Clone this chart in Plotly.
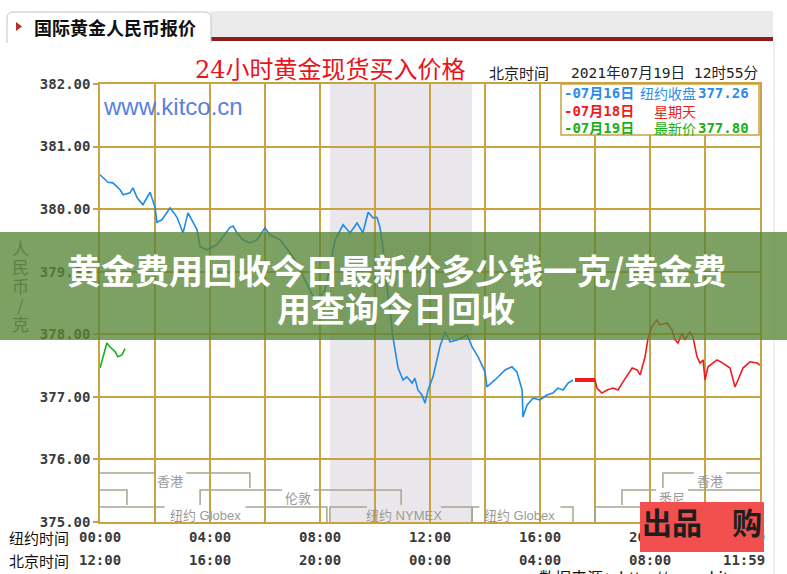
import plotly.graph_objects as go

# ---------------- data (NY time in hours, price in CNY/g) ----------------
blue_hours = [0.00,0.11,0.29,0.47,0.73,0.84,1.09,1.20,1.35,1.56,1.82,2.00,2.07,2.25,2.55,2.80,3.02,3.20,3.53,3.64,
              3.89,4.25,4.47,4.73,4.84,4.98,5.20,5.45,5.71,6.00,6.18,6.55,6.91,7.16,7.45,7.71,7.93,8.18,8.36,8.55,
              8.84,9.09,9.35,9.56,9.75,9.93,10.07,10.18,10.29,10.40,10.55,10.65,10.84,11.02,11.16,11.35,11.45,11.56,11.71,11.82,
              11.93,12.11,12.36,12.55,12.73,12.98,13.35,13.53,13.75,14.00,14.07,14.36,14.73,14.98,15.16,15.35,15.38,15.53,15.75,16.00,
              16.25,16.47,16.65,16.84,17.02,17.20]
blue_price = [380.55,380.50,380.43,380.42,380.31,380.23,380.26,380.34,380.18,380.07,380.27,380.03,379.79,379.83,380.02,379.87,379.62,379.94,379.67,379.40,
              379.35,379.43,379.55,379.71,379.73,379.62,379.51,379.46,379.51,379.70,379.59,379.51,379.30,379.14,378.87,378.63,378.55,378.71,379.08,379.51,
              379.75,379.62,379.78,379.62,379.95,379.86,379.87,379.71,379.39,378.87,378.39,377.96,377.46,377.27,377.32,377.22,377.30,377.11,377.03,376.90,
              377.11,377.32,377.80,378.04,377.88,377.91,377.99,377.80,377.64,377.40,377.16,377.27,377.43,377.48,377.40,377.11,376.68,376.87,376.98,376.95,
              377.03,377.06,377.14,377.11,377.22,377.27]

sunday_hours = [17.27, 18.00]
sunday_price = [377.27, 377.27]

red_hours = [18.00,18.07,18.25,18.44,18.65,18.84,19.02,19.35,19.53,19.64,19.82,19.93,20.07,20.25,20.36,20.62,20.80,20.91,21.02,21.16,
             21.27,21.45,21.56,21.71,21.82,21.93,22.00,22.11,22.44,22.65,22.91,23.09,23.20,23.38,23.64,23.89,24.00]
red_price = [377.27,377.14,377.06,377.11,377.14,377.11,377.24,377.46,377.43,377.35,377.64,377.94,378.12,378.23,378.15,378.18,378.07,377.91,377.86,378.02,
             377.91,378.04,377.96,377.64,377.54,377.59,377.27,377.48,377.59,377.54,377.46,377.16,377.27,377.46,377.56,377.54,377.51]

green_hours = [0.00,0.11,0.25,0.36,0.55,0.65,0.80,0.91]
green_price = [377.46,377.64,377.86,377.80,377.72,377.64,377.67,377.77]

price_ticks = [375, 376, 377, 378, 379, 380, 381, 382]
time_ticks = [0, 4, 8, 12, 16, 20]
ny_time_labels = ["00:00", "04:00", "08:00", "12:00", "16:00", "20:00"]
bj_time_labels = ["12:00", "16:00", "20:00", "00:00", "04:00", "08:00"]
last_ny_label = "23:59"
last_bj_label = "11:59"
nymex_window = [8.36, 13.53]

legend_dates = ["-07月16日", "-07月18日", "-07月19日"]
legend_names = ["纽约收盘", "星期天", "最新价"]
legend_values = ["377.26", "", "377.80"]

# trading sessions: label, row, start, end, label centre, left bracket, right bracket
sessions = [
    ("香港", 0, 0.00, 5.45, 2.55, False, True),
    ("香港", 0, 20.47, 24.00, 22.18, True, False),
    ("", 1, 0.00, 0.98, None, False, True),
    ("伦敦", 1, 3.64, 10.95, 7.20, True, True),
    ("悉尼", 1, 18.98, 24.00, 20.80, True, False),
    ("纽约 Globex", 2, 0.00, 8.25, 3.82, False, True),
    ("纽约 NYMEX", 2, 8.36, 13.53, 11.05, True, True),
    ("纽约 Globex", 2, 13.53, 17.20, 15.27, True, True),
    ("纽约 Globex", 2, 18.00, 24.00, 21.60, True, False),
]

# ---------------- geometry helpers ----------------
W, H = 787, 574
PL, PR, PT, PB = 100, 760, 84, 522
YMIN, YMAX = 375, 382


def fx(px):
    return (px - PL) / (PR - PL)


def fy(py):
    return (PB - py) / (PB - PT)


def pval(py):
    return YMAX - (py - PT) * (YMAX - YMIN) / (PB - PT)


HOUR_PX = (PR - PL) / 24.0
GOLD = "#c9a241"
MONO = "DejaVu Sans Mono"
CJK = "Noto Sans CJK SC"

fig = go.Figure()

# ---------------- session brackets ----------------
row_px = [473, 490, 507]
drop_px = 15


def label_width(t):
    return sum(13 if ord(c) > 255 else 7 for c in t)


for r in range(3):
    xs, ys = [], []
    ytop = pval(row_px[r])
    ybot = pval(row_px[r] + drop_px)
    for lab, row, s, e, c, lb, rb in sessions:
        if row != r:
            continue
        if lb:
            xs += [s]
            ys += [ybot]
        xs += [s]
        ys += [ytop]
        if lab:
            half = (label_width(lab) / 2 + 3) / HOUR_PX
            xs += [c - half, None, c + half]
            ys += [ytop, None, ytop]
        xs += [e]
        ys += [ytop]
        if rb:
            xs += [e]
            ys += [ybot]
        xs += [None]
        ys += [None]
    fig.add_trace(go.Scatter(x=xs, y=ys, mode="lines", line=dict(color="#a6a68f", width=1.5),
                             hoverinfo="skip", showlegend=False))

# ---------------- price lines ----------------
fig.add_trace(go.Scatter(x=blue_hours, y=blue_price, mode="lines",
                         line=dict(color="#1f8be8", width=1.6), showlegend=False))
fig.add_trace(go.Scatter(x=sunday_hours, y=sunday_price, mode="lines",
                         line=dict(color="#ee1c1c", width=4), showlegend=False))
fig.add_trace(go.Scatter(x=red_hours, y=red_price, mode="lines",
                         line=dict(color="#ee1c1c", width=1.6), showlegend=False))
fig.add_trace(go.Scatter(x=green_hours, y=green_price, mode="lines",
                         line=dict(color="#19b019", width=1.6), showlegend=False))

shapes = []
# NYMEX shaded window
shapes.append(dict(type="rect", xref="x", yref="paper", x0=nymex_window[0], x1=nymex_window[1], y0=0, y1=1,
                   fillcolor="#e9e7ec", line=dict(width=0), layer="below"))
# legend box
shapes.append(dict(type="rect", xref="paper", yref="paper", x0=fx(561), x1=fx(759), y0=fy(135), y1=fy(84),
                   fillcolor="white", line=dict(color=GOLD, width=1.5), layer="above"))
# header gray band and dark red rule
shapes.append(dict(type="rect", xref="paper", yref="paper", x0=fx(210), x1=fx(773), y0=fy(38), y1=fy(11),
                   fillcolor="#ebebeb", line=dict(width=0), layer="above"))
shapes.append(dict(type="rect", xref="paper", yref="paper", x0=fx(210), x1=fx(773), y0=fy(41), y1=fy(37),
                   fillcolor="#8e1d1d", line=dict(width=0), layer="above"))
# header tab
tab = ("M {a},{b} L {a},{c} Q {a},{d} {e},{d} L {f},{d} Q {g},{d} {g},{c} L {g},{b}").format(
    a=fx(7), b=fy(43), c=fy(18), d=fy(12), e=fx(13), f=fx(204), g=fx(211))
shapes.append(dict(type="path", xref="paper", yref="paper", path=tab, fillcolor="white",
                   line=dict(color="#c4c4c4", width=1), layer="above"))
tri = "M {0},{1} L {2},{3} L {0},{4} Z".format(fx(16), fy(22), fx(22), fy(26.5), fy(31))
shapes.append(dict(type="path", xref="paper", yref="paper", path=tri, fillcolor="#b8312a",
                   line=dict(width=0), layer="above"))
# right border of page panel
shapes.append(dict(type="line", xref="paper", yref="paper", x0=fx(774), x1=fx(774), y0=fy(41), y1=fy(574),
                   line=dict(color="#dedede", width=1), layer="above"))

ann = []
# header texts
ann.append(dict(x=fx(32), y=fy(27), xref="paper", yref="paper", xanchor="left", yanchor="middle",
                text="国际黄金人民币报价", showarrow=False,
                font=dict(family=CJK, size=18, color="#111111", weight="bold")))
ann.append(dict(x=fx(330), y=fy(70), xref="paper", yref="paper", xanchor="center", yanchor="middle",
                text="24小时黄金现货买入价格", showarrow=False,
                font=dict(family="DejaVu Serif, " + CJK, size=24, color="#e8141c")))
ann.append(dict(x=fx(487), y=fy(73), xref="paper", yref="paper", xanchor="left", yanchor="middle",
                text="北京时间", showarrow=False, font=dict(family=CJK, size=15, color="#222222")))
ann.append(dict(x=fx(569), y=fy(73), xref="paper", yref="paper", xanchor="left", yanchor="middle",
                text="2021年07月19日 12时55分", showarrow=False,
                font=dict(family=MONO + ", " + CJK, size=14.6, color="#222222")))

# legend rows
leg_colors = ["#2a8cf0", "#ee1c1c", "#19b019"]
leg_y = [93, 111, 128]
name_x = [638, 652, 652]
for i in range(3):
    ann.append(dict(x=fx(562), y=fy(leg_y[i]), xref="paper", yref="paper", xanchor="left", yanchor="middle",
                    text="<b>" + legend_dates[i] + "</b>", showarrow=False,
                    font=dict(family=MONO + ", " + CJK, size=14, color=leg_colors[i])))
    ann.append(dict(x=fx(name_x[i]), y=fy(leg_y[i]), xref="paper", yref="paper", xanchor="left", yanchor="middle",
                    text=legend_names[i], showarrow=False,
                    font=dict(family=CJK, size=14, color=leg_colors[i])))
    if legend_values[i]:
        ann.append(dict(x=fx(751), y=fy(leg_y[i]), xref="paper", yref="paper", xanchor="right", yanchor="middle",
                        text="<b>" + legend_values[i] + "</b>", showarrow=False,
                        font=dict(family=MONO, size=14, color=leg_colors[i])))

# watermark url
ann.append(dict(x=fx(101), y=fy(106), xref="paper", yref="paper", xanchor="left", yanchor="middle",
                text="www.kitco.cn", showarrow=False,
                font=dict(family="Liberation Sans", size=24, color="#5a7fe2")))

# y title (vertical)
ytitle = "人民币/克"
for i, ch in enumerate(ytitle):
    ann.append(dict(x=fx(20), y=fy(247 + i * 19.2), xref="paper", yref="paper", xanchor="center",
                    yanchor="middle", text=ch, showarrow=False,
                    font=dict(family=CJK, size=17, color="#707070")))

# session labels
for lab, row, s, e, c, lb, rb in sessions:
    if lab:
        ann.append(dict(x=c, y=pval(row_px[row] + 8), xref="x", yref="y", xanchor="center", yanchor="middle",
                        text=lab, showarrow=False,
                        font=dict(family="Liberation Sans, " + CJK, size=13, color="#9a9a9a")))

# time axis labels
ann.append(dict(x=fx(39), y=fy(537), xref="paper", yref="paper", xanchor="center", yanchor="middle",
                text="纽约时间", showarrow=False, font=dict(family=CJK, size=15, color="#111111")))
ann.append(dict(x=fx(39), y=fy(560), xref="paper", yref="paper", xanchor="center", yanchor="middle",
                text="北京时间", showarrow=False, font=dict(family=CJK, size=15, color="#111111")))
for h, a, b in zip(time_ticks, ny_time_labels, bj_time_labels):
    ann.append(dict(x=h, y=fy(537), xref="x", yref="paper", xanchor="center", yanchor="middle",
                    text=a, showarrow=False, font=dict(family=MONO, size=14, color="#3a3a3a", weight="bold")))
    ann.append(dict(x=h, y=fy(560), xref="x", yref="paper", xanchor="center", yanchor="middle",
                    text=b, showarrow=False, font=dict(family=MONO, size=14, color="#3a3a3a", weight="bold")))
ann.append(dict(x=24, y=fy(537), xref="x", yref="paper", xanchor="right", yanchor="middle", xshift=7,
                text=last_ny_label, showarrow=False, font=dict(family=MONO, size=14, color="#3a3a3a", weight="bold")))
ann.append(dict(x=24, y=fy(560), xref="x", yref="paper", xanchor="right", yanchor="middle", xshift=7,
                text=last_bj_label, showarrow=False, font=dict(family=MONO, size=14, color="#3a3a3a", weight="bold")))

# data source line (cut by the bottom edge)
ann.append(dict(x=fx(537), y=fy(577), xref="paper", yref="paper", xanchor="left", yanchor="middle",
                text="数据来源：http://www.kitco.cn", showarrow=False,
                font=dict(family=CJK, size=16, color="#111111")))

# green overlay banner
ann.append(dict(x=fx(393.5), y=fy(286), xref="paper", yref="paper", xanchor="center", yanchor="middle",
                text=" ", showarrow=False, width=787, height=108, borderpad=0, borderwidth=0,
                bgcolor="rgba(88,133,55,0.78)"))
ann.append(dict(x=fx(396), y=fy(269), xref="paper", yref="paper", xanchor="center", yanchor="middle",
                text="黄金费用回收今日最新价多少钱一克/黄金费", showarrow=False,
                font=dict(family=CJK, size=34, color="white", weight="bold")))
ann.append(dict(x=fx(396), y=fy(307), xref="paper", yref="paper", xanchor="center", yanchor="middle",
                text="用查询今日回收", showarrow=False,
                font=dict(family=CJK, size=34, color="white", weight="bold")))

# red badge bottom right
ann.append(dict(x=fx(702), y=fy(527), xref="paper", yref="paper", xanchor="center", yanchor="middle",
                text=" ", showarrow=False, width=124, height=50, borderpad=0, borderwidth=0,
                bgcolor="#f24f4f"))
ann.append(dict(x=fx(640), y=fy(521), xref="paper", yref="paper", xanchor="left", yanchor="middle",
                text="出品　购", showarrow=False,
                font=dict(family=CJK, size=30, color="#1e1e1e", weight="bold")))

fig.update_layout(
    width=W, height=H,
    margin=dict(l=PL, r=W - PR, t=PT, b=H - PB, pad=0),
    paper_bgcolor="white", plot_bgcolor="white",
    showlegend=False,
    shapes=shapes, annotations=ann,
    xaxis=dict(range=[0, 24], tick0=0, dtick=2, showgrid=True, gridcolor=GOLD, gridwidth=1.5,
               showline=True, linecolor=GOLD, linewidth=1.5, mirror=True, zeroline=False,
               showticklabels=False, ticks=""),
    yaxis=dict(range=[YMIN, YMAX], tickvals=price_ticks, tickformat=".2f", showgrid=True,
               gridcolor=GOLD, gridwidth=1.5, showline=True, linecolor=GOLD, linewidth=1.5, mirror=True,
               zeroline=False, ticks="outside", ticklen=5, tickcolor=GOLD, tickwidth=1.5,
               tickfont=dict(family=MONO, size=14, color="#3c3c3c", weight="bold")),
)

fig.write_html("out.html")
